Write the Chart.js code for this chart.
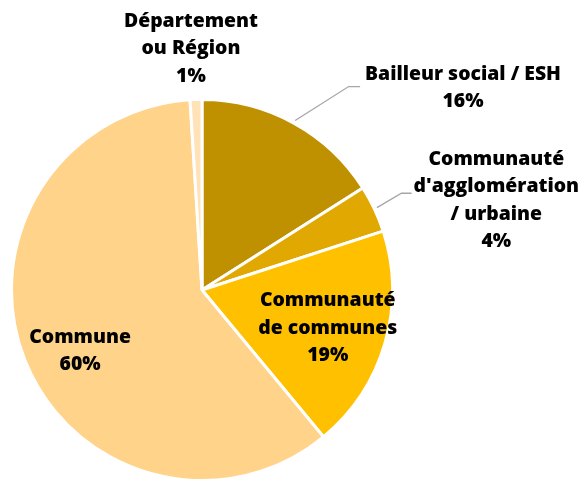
<!DOCTYPE html>
<html>
<head>
<meta charset="utf-8">
<script src="https://cdn.jsdelivr.net/npm/chart.js@4.4.1/dist/chart.umd.min.js"></script>
<style>
  html, body { margin: 0; padding: 0; background: #fff; }
  #wrap { width: 582px; height: 482px; position: relative; }
</style>
</head>
<body>
<div id="wrap"><canvas id="chartjs"></canvas></div>
<script>
// data, clockwise from 12 o'clock
const categories = [
  ["Bailleur social / ESH"],
  ["Communauté", "d'agglomération", "/ urbaine"],
  ["Communauté", "de communes"],
  ["Commune"],
  ["Département", "ou Région"]
]
const shares = [16, 4, 19, 60, 1]
const sliceColors = ["#BF9000", "#E0A800", "#FFC000", "#FFD38A", "#FFE2B8"]

// label placement, in units of the pie radius relative to the centre
// leader: elbow of the grey line, leaderEnd: its short horizontal end
const labelLayout = [
  { pos: [1.37, -1.06], leader: [0.77, -1.068], leaderEnd: [0.83, -1.068] },
  { pos: [1.545, -0.47], leader: [1.047, -0.508], leaderEnd: [1.10, -0.508] },
  { pos: [0.66, 0.2] },
  { pos: [-0.64, 0.32] },
  { pos: [-0.058, -1.267] }
]

const labelPlugin = {
  id: 'sliceLabels',
  afterDatasetsDraw(chart) {
    const ctx = chart.ctx
    const meta = chart.getDatasetMeta(0)
    ctx.save()
    ctx.font = '800 19.4px "Open Sans", sans-serif'
    ctx.fillStyle = '#000'
    ctx.textAlign = 'center'
    ctx.textBaseline = 'middle'
    const lineH = 27.6
    meta.data.forEach(function (arc, i) {
      const p = arc.getProps(['x', 'y', 'startAngle', 'endAngle', 'outerRadius'], true)
      const R = p.outerRadius
      const lay = labelLayout[i]
      if (lay.leader) {
        const mid = (p.startAngle + p.endAngle) / 2
        ctx.strokeStyle = '#A6A6A6'
        ctx.lineWidth = 1.3
        ctx.beginPath()
        ctx.moveTo(p.x + Math.cos(mid) * R * 1.015, p.y + Math.sin(mid) * R * 1.015)
        ctx.lineTo(p.x + lay.leader[0] * R, p.y + lay.leader[1] * R)
        ctx.lineTo(p.x + lay.leaderEnd[0] * R, p.y + lay.leaderEnd[1] * R)
        ctx.stroke()
      }
      const lines = categories[i].concat([shares[i] + '%'])
      const cx = p.x + lay.pos[0] * R
      const cy = p.y + lay.pos[1] * R
      const top = cy - (lines.length - 1) * lineH / 2
      lines.forEach(function (t, k) {
        ctx.fillText(t, cx, top + k * lineH)
      })
    })
    ctx.restore()
  }
}

function drawChart() {
  const ctx = document.getElementById("chartjs").getContext("2d")
  new Chart(ctx, {
    type: 'pie',
    data: {
      labels: categories.map(c => c.join(' ')),
      datasets: [{
        data: shares,
        backgroundColor: sliceColors,
        borderColor: '#ffffff',
        borderWidth: 3,
        hoverOffset: 0
      }]
    },
    options: {
      responsive: true,
      maintainAspectRatio: false,
      animation: false,
      events: [],
      layout: {
        padding: { left: 10, right: 188, top: 98, bottom: 0 }
      },
      plugins: {
        legend: { display: false },
        tooltip: { enabled: false }
      }
    },
    plugins: [labelPlugin]
  })
}

window.onload = function () {
  drawChart()
}
</script>
</body>
</html>
